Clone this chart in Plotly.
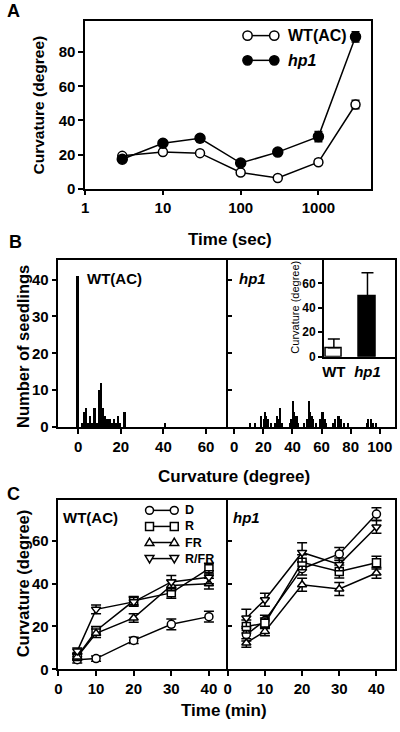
import plotly.graph_objects as go

FONT = "Liberation Sans, Arial, sans-serif"
W, H = 400, 732

# ---------------- data ----------------
# Panel A
time_sec = [3, 10, 30, 100, 300, 1000, 3000]
wt_curv = [19.2, 21.5, 20.8, 9.5, 6.2, 15.5, 49.3]
wt_err = [1.2, 1.2, 1.2, 1.2, 1.0, 1.5, 2.5]
hp1_curv = [17.2, 26.6, 29.5, 15.0, 21.4, 30.5, 89.0]
hp1_err = [1.5, 1.5, 2.0, 1.5, 1.5, 3.0, 3.0]

# Panel B histograms (curvature in degrees, number of seedlings)
wt_hist_deg = [0, 2, 3, 4, 5, 6, 7, 8, 9, 10, 11, 12, 13, 14, 15, 16, 17, 18, 19, 20, 22, 41]
wt_hist_n = [41, 1, 4, 5, 1, 3, 1, 5, 1, 10, 12, 5, 3, 2, 2, 1, 2, 1, 3, 1, 4, 1]
hp1_hist_deg = [11, 14, 18, 20, 21, 22, 23, 25, 28, 29, 30, 31, 32, 33, 38, 39, 40, 41, 42, 43, 44,
                48, 50, 51, 52, 53, 54, 56, 59, 60, 61, 62, 63, 68, 69, 71, 72, 73, 75, 78,
                91, 92, 94, 95, 97]
hp1_hist_n = [1, 1, 3, 2, 4, 3, 2, 1, 1, 3, 2, 5, 1, 1, 1, 2, 7, 4, 3, 3, 1,
              1, 2, 7, 4, 3, 2, 1, 2, 4, 4, 2, 1, 1, 2, 3, 3, 2, 1, 1,
              1, 2, 2, 1, 1]

# Panel B inset
inset_groups = ["WT", "hp1"]
inset_mean = [7.3, 49.2]
inset_sd = [7.3, 19.5]

# Panel C
time_min = [5, 10, 20, 30, 40]
wt_D = [4.5, 5.0, 13.5, 21.0, 24.6]
wt_D_err = [1.5, 1.2, 1.5, 2.5, 2.5]
wt_R = [6.0, 18.0, 32.0, 35.7, 47.0]
wt_R_err = [1.5, 2.0, 2.0, 2.5, 2.5]
wt_FR = [5.8, 16.8, 24.0, 39.2, 40.0]
wt_FR_err = [1.5, 2.0, 2.0, 2.5, 2.5]
wt_RFR = [8.5, 28.0, 31.5, 40.8, 43.0]
wt_RFR_err = [1.5, 2.0, 2.0, 3.0, 3.0]
hp_D = [16.2, 22.8, 47.0, 53.9, 72.5]
hp_D_err = [3.0, 2.5, 3.0, 3.0, 3.0]
hp_R = [20.0, 21.5, 50.0, 45.7, 49.8]
hp_R_err = [3.0, 2.5, 3.5, 3.0, 3.0]
hp_FR = [12.3, 17.7, 39.5, 37.5, 45.0]
hp_FR_err = [2.0, 2.0, 3.0, 3.0, 2.5]
hp_RFR = [24.0, 32.5, 54.6, 49.0, 66.5]
hp_RFR_err = [4.0, 3.0, 4.5, 3.0, 3.0]

legend_a_names = ["WT(AC)", "hp1"]
legend_c_names = ["D", "R", "FR", "R/FR"]


def xd(a, b):
    return [a / W, b / W]


def yd(top, bottom):
    return [1 - bottom / H, 1 - top / H]


def px(x):
    return x / W


def py(y):
    return 1 - y / H


fig = go.Figure()

# ---------------- Panel A ----------------
for name, yv, ev, fill, size in [("WT(AC)", wt_curv, wt_err, "white", 9),
                                 ("hp1", hp1_curv, hp1_err, "black", 10)]:
    fig.add_trace(go.Scatter(
        x=time_sec, y=yv, mode="lines+markers", name=name, xaxis="x", yaxis="y",
        line=dict(color="black", width=1.5),
        marker=dict(symbol="circle", size=size, color=fill, line=dict(color="black", width=1.5)),
        error_y=dict(type="data", array=ev, color="black", thickness=1.5, width=4),
        showlegend=False))

# ---------------- Panel B ----------------
fig.add_trace(go.Bar(x=wt_hist_deg, y=wt_hist_n, width=0.8, marker=dict(color="black", line=dict(width=0)),
                     xaxis="x2", yaxis="y2", showlegend=False))
fig.add_trace(go.Bar(x=hp1_hist_deg, y=hp1_hist_n, width=0.8, marker=dict(color="black", line=dict(width=0)),
                     xaxis="x3", yaxis="y3", showlegend=False))
fig.add_trace(go.Bar(x=inset_groups, y=inset_mean, width=0.5,
                     marker=dict(color=["white", "black"], line=dict(color="black", width=1.5)),
                     error_y=dict(type="data", array=inset_sd, arrayminus=[0, 0], symmetric=False,
                                  color="black", thickness=1.5, width=6),
                     xaxis="x4", yaxis="y4", showlegend=False))

# ---------------- Panel C ----------------
series_c = [("D", "circle"), ("R", "square"), ("FR", "triangle-up"), ("R/FR", "triangle-down")]
wt_sets = [(wt_D, wt_D_err), (wt_R, wt_R_err), (wt_FR, wt_FR_err), (wt_RFR, wt_RFR_err)]
hp_sets = [(hp_D, hp_D_err), (hp_R, hp_R_err), (hp_FR, hp_FR_err), (hp_RFR, hp_RFR_err)]
for axes, sets in [(("x5", "y5"), wt_sets), (("x6", "y6"), hp_sets)]:
    for (name, sym), (yv, ev) in zip(series_c, sets):
        fig.add_trace(go.Scatter(
            x=time_min, y=yv, mode="lines+markers", name=name, xaxis=axes[0], yaxis=axes[1],
            line=dict(color="black", width=1.5),
            marker=dict(symbol=sym, size=8, color="white", line=dict(color="black", width=1.5)),
            error_y=dict(type="data", array=ev, color="black", thickness=1.5, width=5),
            showlegend=False))

# ---------------- axes ----------------
tickfont = dict(family=FONT, size=15, color="black", weight="bold")


def ax(**kw):
    base = dict(showline=True, linecolor="black", linewidth=1.5, mirror=True, ticks="outside",
                ticklen=5, tickwidth=1.5, tickcolor="black", showgrid=False, zeroline=False,
                tickfont=tickfont, fixedrange=True)
    base.update(kw)
    return base


fig.update_layout(
    width=W, height=H, margin=dict(l=0, r=0, t=0, b=0),
    paper_bgcolor="white", plot_bgcolor="rgba(0,0,0,0)",
    font=dict(family=FONT, color="black"),
    bargap=0, showlegend=False,
    xaxis=ax(domain=xd(82, 371), type="log", range=[0, 3.68], tickvals=[1, 10, 100, 1000],
             ticktext=["1", "10", "100", "1000"], anchor="y"),
    yaxis=ax(domain=yd(21.7, 190.7), range=[0, 98], tickvals=[0, 20, 40, 60, 80], anchor="x"),
    xaxis2=ax(domain=xd(55, 226), range=[-9.3, 70.2], tickvals=[0, 20, 40, 60], anchor="y2"),
    yaxis2=ax(domain=yd(263, 431.7), range=[0, 45.3], tickvals=[0, 10, 20, 30, 40], anchor="x2",
              mirror=False),
    xaxis3=ax(domain=xd(226, 395), range=[-4.5, 110.5], tickvals=[0, 20, 40, 60, 80, 100], anchor="y3"),
    yaxis3=ax(domain=yd(263, 431.7), range=[0, 45.3], tickvals=[0, 10, 20, 30, 40], ticks="inside",
              showticklabels=False, anchor="x3"),
    xaxis4=ax(domain=xd(323, 395), type="category", range=[-0.3, 1.82], ticks="",
              tickvals=inset_groups, ticktext=["WT", "<i>hp1</i>"], anchor="y4", mirror=False),
    yaxis4=ax(domain=yd(263, 360.7), range=[0, 79], tickvals=[0, 20, 40, 60], ticklen=4,
              tickfont=dict(family=FONT, size=12, color="black", weight="bold"), anchor="x4", mirror=False),
    xaxis5=ax(domain=xd(55, 226), range=[0, 45], tickvals=[0, 10, 20, 30, 40], anchor="y5"),
    yaxis5=ax(domain=yd(505.7, 676.7), range=[0, 79], tickvals=[0, 20, 40, 60], anchor="x5",
              mirror=False),
    xaxis6=ax(domain=xd(226, 395), range=[0, 45], tickvals=[0, 10, 20, 30, 40], anchor="y6"),
    yaxis6=ax(domain=yd(505.7, 676.7), range=[0, 79], tickvals=[0, 20, 40, 60], ticks="inside",
              showticklabels=False, anchor="x6"),
)


def ann(text, x, y, size=15, angle=0, xanchor="center", bold=True, italic=False):
    t = text
    if italic:
        t = "<i>" + t + "</i>"
    fig.add_annotation(text=t, x=px(x), y=py(y), xref="paper", yref="paper", showarrow=False,
                       xanchor=xanchor, yanchor="middle", textangle=angle,
                       font=dict(family=FONT, size=size, color="black", weight="bold" if bold else "normal"))


ann("A", 10, 11, size=18)
ann("B", 12, 245, size=18)
ann("C", 10, 499, size=18)
ann("Curvature (degree)", 35, 106, size=15.5, angle=-90)
ann("Time (sec)", 228, 242, size=17)
ann("Number of seedlings", 19, 350, size=16.5, angle=-90)
ann("Curvature (degree)", 232, 482, size=17)
ann("Curvature (degree)", 19, 590, size=16.5, angle=-90)
ann("Time (min)", 222, 718, size=17)
ann("WT(AC)", 112, 282, size=15)
ann("hp1", 251, 282, size=15, italic=True)
ann("Curvature (degree)", 294, 311, size=11, angle=-90, bold=False)
ann("WT(AC)", 87, 523, size=15)
ann("hp1", 245, 523, size=15, italic=True)


# ---------------- legend keys (marker - line - marker, as in the original) ----------------
def key_symbol(sym, cx, cy, r, fill):
    style = dict(xref="paper", yref="paper", fillcolor=fill, line=dict(color="black", width=1.5))
    if sym == "circle":
        fig.add_shape(type="circle", x0=px(cx - r), x1=px(cx + r), y0=py(cy + r), y1=py(cy - r), **style)
    elif sym == "square":
        fig.add_shape(type="rect", x0=px(cx - r), x1=px(cx + r), y0=py(cy + r), y1=py(cy - r), **style)
    else:
        s = 1 if sym == "triangle-up" else -1
        pts = [(cx, cy - s * r * 1.1), (cx - r * 1.1, cy + s * r * 0.75), (cx + r * 1.1, cy + s * r * 0.75)]
        path = "M" + " L".join(f"{px(a):.5f},{py(b):.5f}" for a, b in pts) + " Z"
        fig.add_shape(type="path", path=path, **style)


def legend_key(sym, fill, x_left, x_right, y, r):
    fig.add_shape(type="line", xref="paper", yref="paper", x0=px(x_left), x1=px(x_right), y0=py(y), y1=py(y),
                  line=dict(color="black", width=1.5))
    key_symbol(sym, x_left, y, r, fill)
    key_symbol(sym, x_right, y, r, fill)


# legend of panel A
for i, (name, fill) in enumerate(zip(legend_a_names, ["white", "black"])):
    y = 36 + 25 * i
    legend_key("circle", fill, 246, 273, y, 4.7)
    t = "<i>" + name + "</i>" if name == "hp1" else name
    fig.add_annotation(text=t, x=px(285), y=py(y), xref="paper", yref="paper", showarrow=False,
                       xanchor="left", yanchor="middle",
                       font=dict(family=FONT, size=16, color="black", weight="bold"))

# legend of panel C (one multi-line text block so rows do not collide)
LEG_C_SIZE = 12.5
row_gap = LEG_C_SIZE * 1.3
y0 = 516
for i, (name, sym) in enumerate(zip(legend_c_names, [s for _, s in series_c])):
    legend_key(sym, "white", 147, 172, y0 + row_gap * i, 4.0)
fig.add_annotation(text="<br>".join(legend_c_names), x=px(181), y=py(y0 + row_gap * 1.5),
                   xref="paper", yref="paper", showarrow=False, xanchor="left", yanchor="middle",
                   align="left", font=dict(family=FONT, size=LEG_C_SIZE, color="black", weight="bold"))

fig.write_html("out.html", post_script="document.body.style.margin='0px';",
               config={"displayModeBar": False})
